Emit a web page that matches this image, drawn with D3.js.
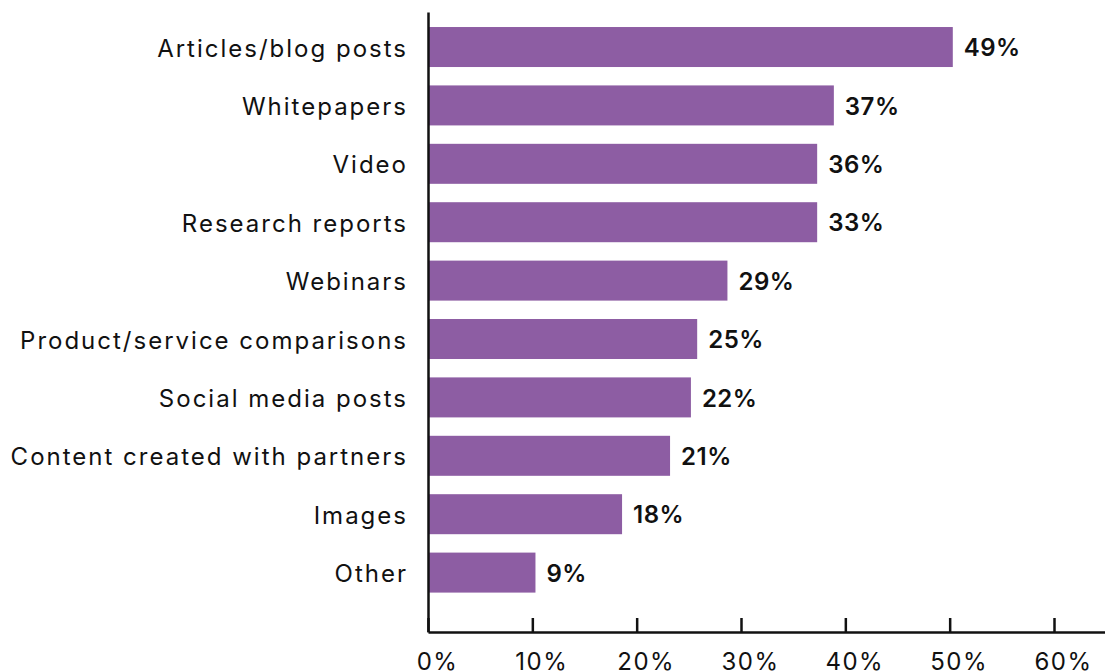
<!DOCTYPE html>
<html>
  <head>
    <meta http-equiv="Content-type" content="text/html; charset=utf-8"/>
    <title>Content formats</title>
    <script src="https://d3js.org/d3.v7.min.js"></script>
    <style>
      html, body { margin: 0; padding: 0; background: #fff; }
      svg text { font-family: Inter, "Noto Sans", sans-serif; fill: #111; }
    </style>
  </head>
  <body>
    <svg width="1105" height="671"></svg>
    <script>
      // ### Data ###
      var categories = ["Articles/blog posts", "Whitepapers", "Video", "Research reports",
                        "Webinars", "Product/service comparisons", "Social media posts",
                        "Content created with partners", "Images", "Other"];
      // bar lengths as drawn in the picture (they run a bit past the printed figures)
      var barValues = [50.3, 38.9, 37.3, 37.3, 28.7, 25.8, 25.2, 23.2, 18.6, 10.3];
      // figures printed beside the bars
      var labelValues = [49, 37, 36, 33, 29, 25, 22, 21, 18, 9];
      var tickValues = [0, 10, 20, 30, 40, 50, 60];

      var svg = d3.select("svg");
      var plotLeft = 428, plotRight = 1105, plotTop = 12, plotBottom = 632;

      var x = d3.scaleLinear()
          .domain([0, 60 * (plotRight - plotLeft) / 626])
          .range([plotLeft, plotRight]);

      var y = d3.scaleBand()
          .domain(categories)
          .range([plotTop, plotBottom])
          .paddingInner(0.315)
          .paddingOuter(0.466)
          .align(0.276);

      // bars
      svg.append("g")
        .selectAll("rect")
        .data(categories)
        .join("rect")
          .attr("x", x(0))
          .attr("y", function(d) { return y(d); })
          .attr("width", function(d, i) { return x(barValues[i]) - x(0); })
          .attr("height", y.bandwidth())
          .attr("fill", "#8d5da3");

      // value labels
      svg.append("g")
        .selectAll("text")
        .data(categories)
        .join("text")
          .attr("x", function(d, i) { return x(barValues[i]) + 11; })
          .attr("y", function(d) { return y(d) + y.bandwidth() / 2; })
          .attr("dy", "0.38em")
          .attr("font-size", 24)
          .attr("font-weight", 600)
          .attr("letter-spacing", 0.5)
          .text(function(d, i) { return labelValues[i] + "%"; });

      // category axis
      var yAxis = svg.append("g")
          .attr("transform", "translate(" + plotLeft + ",0)")
          .call(d3.axisLeft(y).tickSize(0).tickPadding(20));
      yAxis.select(".domain").attr("stroke", "#111").attr("stroke-width", 2.5);
      yAxis.selectAll("text")
          .attr("font-size", 24)
          .attr("letter-spacing", 2)
          .attr("dy", "0.4em");

      // value axis
      var xAxis = svg.append("g")
          .attr("transform", "translate(0," + plotBottom + ")")
          .call(d3.axisBottom(x)
            .tickValues(tickValues)
            .tickSizeInner(-14)
            .tickSizeOuter(0)
            .tickPadding(21)
            .tickFormat(function(d) { return d + "%"; }));
      xAxis.select(".domain").attr("stroke", "#111").attr("stroke-width", 2.5);
      xAxis.selectAll(".tick line").attr("stroke", "#111").attr("stroke-width", 2.5);
      xAxis.selectAll("text")
          .attr("font-size", 24)
          .attr("letter-spacing", 1.5)
          .attr("dx", 9);
    </script>
  </body>
</html>
